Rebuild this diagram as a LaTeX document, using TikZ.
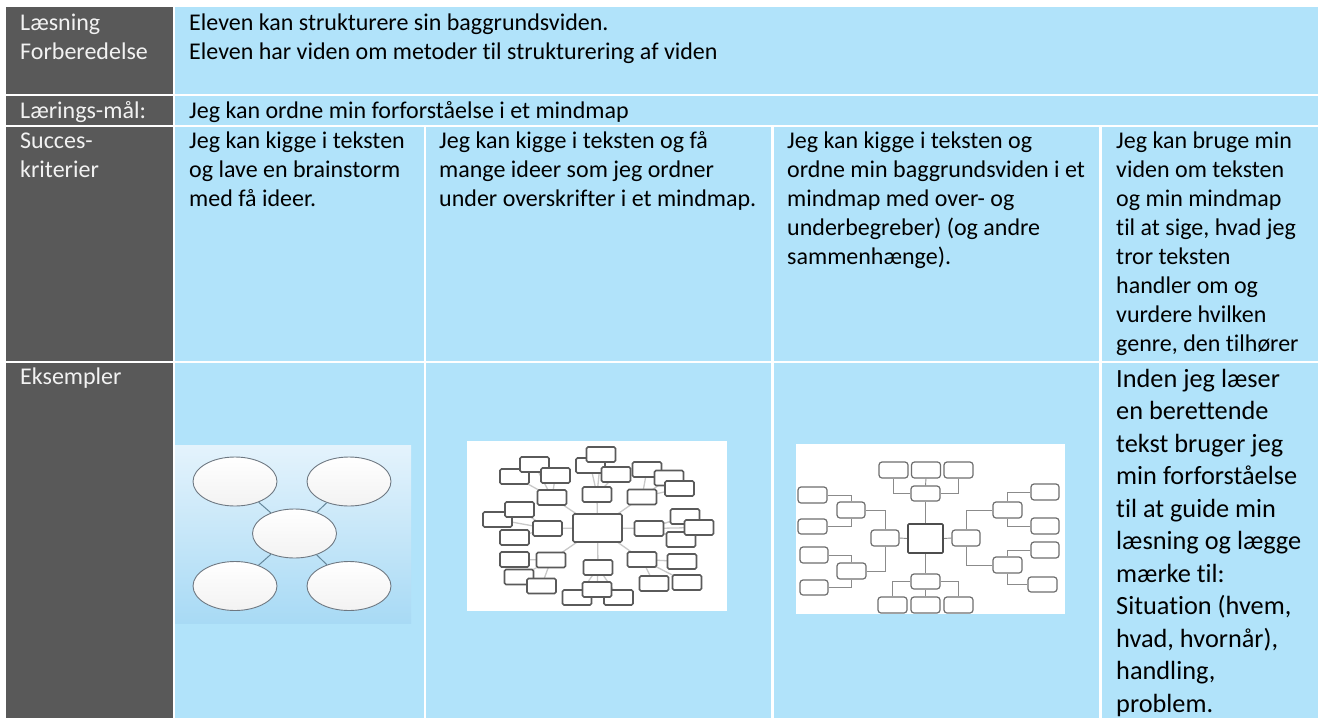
\documentclass[tikz,border=0pt]{standalone}
\usepackage{fontspec}
\setmainfont{Carlito}[Ligatures=NoCommon]
\usetikzlibrary{shapes.geometric}
\pgfdeclarelayer{bg}
\pgfdeclarelayer{lines}
\pgfsetlayers{bg,lines,main}
\definecolor{hdrgray}{RGB}{89,89,89}
\definecolor{hdrtext}{RGB}{242,242,242}
\definecolor{cellblue}{RGB}{177,227,250}
\definecolor{imgtop}{RGB}{228,243,252}
\definecolor{imgbot}{RGB}{168,218,245}
\definecolor{bubline}{RGB}{110,120,130}
\definecolor{bublink}{RGB}{100,135,155}
\definecolor{boxline}{RGB}{90,90,90}
\definecolor{linkgray}{RGB}{200,200,200}
\definecolor{treeline}{RGB}{110,110,110}
\begin{document}
\begin{tikzpicture}[x=1pt,y=-1pt,
  txt/.style={anchor=base west,inner sep=0pt,font=\fontsize{24}{29}\selectfont,text=black},
  hdr/.style={txt,text=hdrtext},
  bigtxt/.style={anchor=base west,inner sep=0pt,font=\fontsize{26.3}{32.5}\selectfont,text=black},
  bub/.style={ellipse,draw=bubline,line width=0.9pt,top color=white,bottom color=white!90!gray,minimum width=84pt,minimum height=49pt,inner sep=0pt},
  mmbox/.style={rectangle,draw=boxline,line width=1.7pt,fill=white,rounded corners=1.5pt,minimum width=29pt,minimum height=15pt,inner sep=0pt},
  trbox/.style={rectangle,draw=treeline,line width=1.2pt,fill=white,rounded corners=3pt,minimum width=29pt,minimum height=16pt,inner sep=0pt},
  mmlink/.style={draw=linkgray,line width=1.3pt},
  trlink/.style={draw=treeline!80,line width=0.9pt}]
\useasboundingbox (0,0) rectangle (1320,718);
\begin{pgfonlayer}{bg}
  \fill[white] (0,0) rectangle (1320,718);
  % header column
  \fill[hdrgray] (6,7) rectangle (173,94);
  \fill[hdrgray] (6,96) rectangle (173,125);
  \fill[hdrgray] (6,127) rectangle (173,361);
  \fill[hdrgray] (6,363) rectangle (173,718);
  % blue cells
  \fill[cellblue] (175,7) rectangle (1318,94);
  \fill[cellblue] (175,96) rectangle (1318,125);
  \fill[cellblue] (175,127) rectangle (424,361);
  \fill[cellblue] (426,127) rectangle (771,361);
  \fill[cellblue] (774,127) rectangle (1099,361);
  \fill[cellblue] (1102,127) rectangle (1318,361);
  \fill[cellblue] (175,363) rectangle (424,718);
  \fill[cellblue] (426,363) rectangle (771,718);
  \fill[cellblue] (774,363) rectangle (1099,718);
  \fill[cellblue] (1102,363) rectangle (1318,718);
  % picture backgrounds
  \shade[top color=imgtop,bottom color=imgbot] (175,445) rectangle (411,623);
  \fill[white] (467,441) rectangle (727,611);
  \fill[white] (796,444) rectangle (1065,614);
\end{pgfonlayer}

% ---- texts ----
\node[hdr] (h1) at (20,30) {\parbox[t]{150pt}{Læsning\\Forberedelse}};
\node[hdr] (h2) at (20,118) {Lærings-mål:};
\node[hdr] (h3) at (20,148) {\parbox[t]{150pt}{Succes-\\kriterier}};
\node[hdr] (h4) at (20,384) {Eksempler};

\node[txt] (r1) at (189,30) {\parbox[t]{1100pt}{Eleven kan strukturere sin baggrundsviden.\\Eleven har viden om metoder til strukturering af viden}};
\node[txt] (r2) at (189,118) {Jeg kan ordne min forforståelse i et mindmap};
\node[txt] (s1) at (189,148) {\parbox[t]{240pt}{Jeg kan kigge i teksten\\og lave en brainstorm\\med få ideer.}};
\node[txt] (s2) at (439,148) {\parbox[t]{330pt}{Jeg kan kigge i teksten og få\\mange ideer som jeg ordner\\under overskrifter i et mindmap.}};
\node[txt] (s3) at (787,148) {\parbox[t]{310pt}{Jeg kan kigge i teksten og\\ordne min baggrundsviden i et\\mindmap med over- og\\underbegreber) (og andre\\sammenhænge).}};
\node[txt] (s4) at (1116,148) {\parbox[t]{200pt}{Jeg kan bruge min\\viden om teksten\\og min mindmap\\til at sige, hvad jeg\\tror teksten\\handler om og\\vurdere hvilken\\genre, den tilhører}};
\node[bigtxt] (e4) at (1116,387) {\parbox[t]{200pt}{Inden jeg læser\\en berettende\\tekst bruger jeg\\min forforståelse\\til at guide min\\læsning og lægge\\mærke til:\\Situation (hvem,\\hvad, hvornår),\\handling,\\problem.}};

% ---- example 1: bubbles ----
\node[bub] (bc) at (294.5,533.5) {};
\node[bub] (b1) at (235,481.5) {};
\node[bub] (b2) at (349,481.5) {};
\node[bub] (b3) at (235,586) {};
\node[bub] (b4) at (349,586) {};
\begin{pgfonlayer}{lines}
  \foreach \b in {b1,b2,b3,b4} \draw[bublink,line width=1pt] (bc) -- (\b);
\end{pgfonlayer}

% ---- example 2: mind map ----
\node[mmbox] (m3) at (590.5,465.5) {};
\node[mmbox] (m1) at (601,454.5) {};
\node[mmbox] (m5) at (514.5,476.5) {};
\node[mmbox] (m2) at (534.5,464.5) {};
\node[mmbox] (m6) at (555.5,475.5) {};
\node[mmbox] (m7) at (616,474.5) {};
\node[mmbox] (m4) at (647,469.5) {};
\node[mmbox] (m8) at (669,478) {};
\node[mmbox] (m9) at (679.5,488.5) {};
\node[mmbox] (m10) at (552,497.5) {};
\node[mmbox] (m11) at (597,494.5) {};
\node[mmbox] (m12) at (642,497) {};
\node[mmbox] (m14) at (497.5,519.5) {};
\node[mmbox] (m13) at (519.5,509.5) {};
\node[mmbox] (m15) at (547.5,528.5) {};
\node[mmbox,minimum width=49pt,minimum height=28pt] (m16) at (597.5,528) {};
\node[mmbox] (m17) at (649,528.5) {};
\node[mmbox] (m18) at (685,516.5) {};
\node[mmbox] (m20) at (681,539.5) {};
\node[mmbox] (m19) at (699,527.5) {};
\node[mmbox] (m21) at (514.5,537.5) {};
\node[mmbox] (m22) at (514.5,559.5) {};
\node[mmbox] (m23) at (551,560) {};
\node[mmbox] (m24) at (642,559.5) {};
\node[mmbox] (m25) at (682,561.5) {};
\node[mmbox] (m26) at (519,577) {};
\node[mmbox] (m27) at (598,567.5) {};
\node[mmbox] (m28) at (541.5,586) {};
\node[mmbox] (m29) at (654,583.5) {};
\node[mmbox] (m30) at (687,582.5) {};
\node[mmbox] (m32) at (577,597.5) {};
\node[mmbox] (m33) at (618.5,597.5) {};
\node[mmbox] (m31) at (597,589.5) {};
\begin{pgfonlayer}{lines}
  \foreach \a in {m10,m11,m12,m15,m17,m23,m24,m27} \draw[mmlink] (m16.center) -- (\a.center);
  \foreach \a in {m2,m5,m6} \draw[mmlink] (m10.center) -- (\a.center);
  \foreach \a in {m1,m3,m7} \draw[mmlink] (m11.center) -- (\a.center);
  \foreach \a in {m4,m8,m9} \draw[mmlink] (m12.center) -- (\a.center);
  \foreach \a in {m13,m14,m21} \draw[mmlink] (m15.center) -- (\a.center);
  \foreach \a in {m18,m19,m20} \draw[mmlink] (m17.center) -- (\a.center);
  \foreach \a in {m22,m26,m28} \draw[mmlink] (m23.center) -- (\a.center);
  \foreach \a in {m25,m29,m30} \draw[mmlink] (m24.center) -- (\a.center);
  \foreach \a in {m31,m32,m33} \draw[mmlink] (m27.center) -- (\a.center);
\end{pgfonlayer}

% ---- example 3: tree mind map ----
\node[trbox,line width=1.6pt,rounded corners=1pt,draw=treeline!70!black,minimum width=35pt,minimum height=29pt] (c3) at (925.5,538.5) {};
\node[trbox,minimum height=15pt] (tm) at (925.5,493.5) {};
\node[trbox] (t1) at (893.5,470) {};
\node[trbox] (t2) at (926,470) {};
\node[trbox] (t3) at (958.5,470) {};
\node[trbox,minimum height=15pt] (bm) at (925.5,581.5) {};
\node[trbox] (u1) at (892.5,605) {};
\node[trbox] (u2) at (925.5,605) {};
\node[trbox] (u3) at (958.5,605) {};
\node[trbox,minimum width=28pt] (lm) at (885,538) {};
\node[trbox,minimum width=28pt] (lu) at (851,510) {};
\node[trbox] (ll) at (851.5,571) {};
\node[trbox] (f1) at (812.5,495) {};
\node[trbox,minimum height=15pt] (f2) at (812.5,526.5) {};
\node[trbox,minimum width=28pt] (f3) at (814,555) {};
\node[trbox,minimum width=28pt,minimum height=15pt] (f4) at (814,587.5) {};
\node[trbox,minimum width=28pt] (rm) at (966,538) {};
\node[trbox] (ru) at (1007.5,510) {};
\node[trbox] (rl) at (1007.5,565) {};
\node[trbox,minimum width=28pt] (g1) at (1045,492) {};
\node[trbox,minimum width=28pt] (g2) at (1045,526) {};
\node[trbox,minimum width=28pt] (g3) at (1045,550) {};
\node[trbox,minimum height=15pt] (g4) at (1042.5,584.5) {};
\begin{pgfonlayer}{lines}
  \draw[trlink] (c3.north) -- (tm.south);
  \draw[trlink] (t1.south) |- (tm.west);
  \draw[trlink] (t3.south) |- (tm.east);
  \draw[trlink] (t2.south) -- (tm.north);
  \draw[trlink] (c3.south) -- (bm.north);
  \draw[trlink] (u1.north) |- (bm.west);
  \draw[trlink] (u3.north) |- (bm.east);
  \draw[trlink] (u2.north) -- (bm.south);
  \draw[trlink] (c3.west) -- (lm.east);
  \draw[trlink] (c3.east) -- (rm.west);
  \draw[trlink] (lm.north) |- (lu.east);
  \draw[trlink] (lm.south) |- (ll.east);
  \draw[trlink] (lu.north) |- (f1.east);
  \draw[trlink] (lu.south) |- (f2.east);
  \draw[trlink] (ll.north) |- (f3.east);
  \draw[trlink] (ll.south) |- (f4.east);
  \draw[trlink] (rm.north) |- (ru.west);
  \draw[trlink] (rm.south) |- (rl.west);
  \draw[trlink] (ru.north) |- (g1.west);
  \draw[trlink] (ru.south) |- (g2.west);
  \draw[trlink] (rl.north) |- (g3.west);
  \draw[trlink] (rl.south) |- (g4.west);
\end{pgfonlayer}
\end{tikzpicture}
\end{document}
